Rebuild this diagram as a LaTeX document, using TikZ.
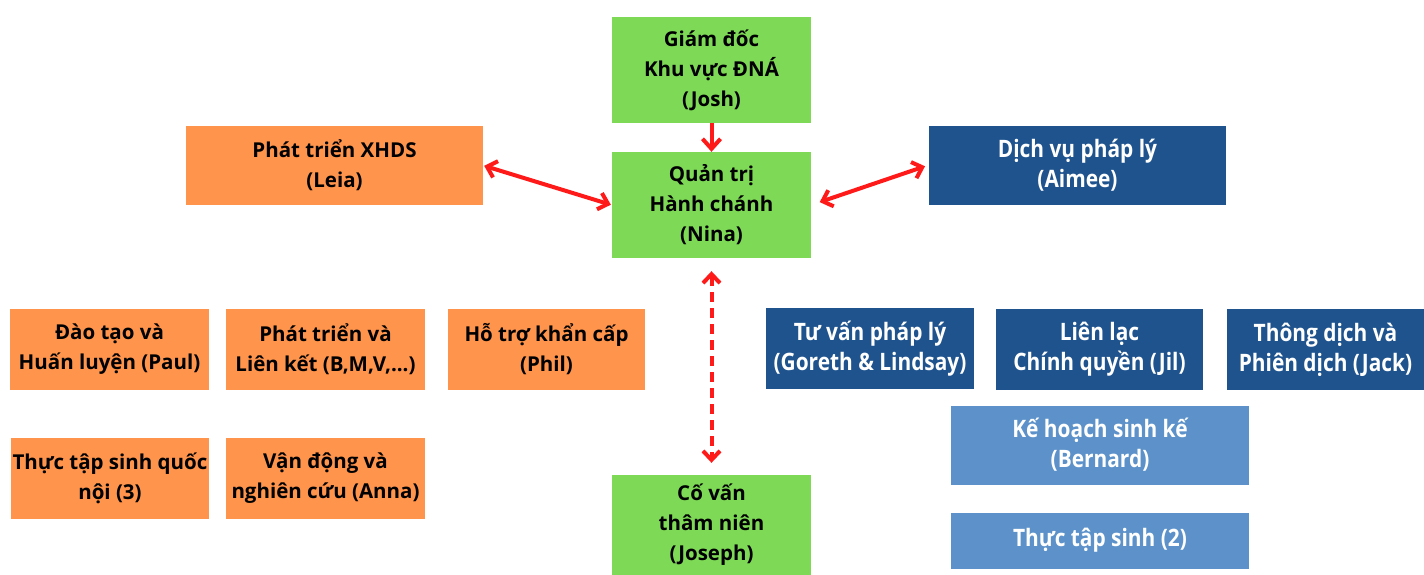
\documentclass[tikz,border=0pt]{standalone}
\usepackage{fontspec}
\setmainfont{Open Sans}
\newfontfamily\narrowfont{Open Sans}[FakeStretch=0.87]
\usepackage{tikz}
\usetikzlibrary{arrows.meta}
\usetikzlibrary{calc}

\definecolor{boxgreen}{RGB}{126,217,87}
\definecolor{boxorange}{RGB}{255,148,77}
\definecolor{boxdark}{RGB}{31,83,141}
\definecolor{boxlight}{RGB}{92,146,201}
\definecolor{linkred}{RGB}{255,26,26}

\begin{document}
\begin{tikzpicture}[x=1pt,y=-1pt,
	unit/.style={inner sep=0pt,align=center,font=\fontsize{20.5}{30}\selectfont\bfseries},
	green/.style={unit,fill=boxgreen},
	orange/.style={unit,fill=boxorange},
	dark/.style={unit,fill=boxdark,text=white,font=\fontsize{24}{30}\selectfont\narrowfont\bfseries},
	light/.style={dark,fill=boxlight},
	link/.style={draw=linkred,line width=4pt},
	oneway/.style={link,-{Straight Barb[length=10pt,width=18pt]}},
	twoway/.style={link,{Straight Barb[length=9pt,width=17pt]}-{Straight Barb[length=9pt,width=17pt]}}]
	\useasboundingbox (0,0) rectangle (1424,574);
% top row
	\node[green,minimum width=199pt,minimum height=106pt] (josh) at (711.5,70) {Giám đốc\\Khu vực ĐNÁ\\(Josh)};
	\node[green,minimum width=199pt,minimum height=106pt] (nina) at (711.5,205) {Quản trị\\Hành chánh\\(Nina)};
	\node[orange,minimum width=297pt,minimum height=79pt] (leia) at (334.5,165.5) {Phát triển XHDS\\(Leia)};
	\node[dark,minimum width=297pt,minimum height=79pt] (aimee) at (1077.5,165) {Dịch vụ pháp lý\\(Aimee)};
% left group
	\node[orange,minimum width=199pt,minimum height=81pt] (paul) at (109.5,349.5) {Đào tạo và\\Huấn luyện (Paul)};
	\node[orange,minimum width=199pt,minimum height=81pt] (bmv) at (325.5,349.5) {Phát triển và\\Liên kết (B,M,V,...)};
	\node[orange,minimum width=197pt,minimum height=81pt] (phil) at (546.5,349.5) {Hỗ trợ khẩn cấp\\(Phil)};
	\node[orange,minimum width=198pt,minimum height=81pt] (intern3) at (110,478.5) {Thực tập sinh quốc\\nội (3)};
	\node[orange,minimum width=199pt,minimum height=81pt] (anna) at (325.5,478.5) {Vận động và\\nghiên cứu (Anna)};
	\node[green,minimum width=199pt,minimum height=100pt] (joseph) at (711.5,525) {Cố vấn\\thâm niên\\(Joseph)};
% right group
	\node[dark,minimum width=208pt,minimum height=81pt] (goreth) at (870,348.5) {Tư vấn pháp lý\\(Goreth \& Lindsay)};
	\node[dark,minimum width=207pt,minimum height=81pt] (jil) at (1099.5,349.5) {Liên lạc\\Chính quyền (Jil)};
	\node[dark,minimum width=197pt,minimum height=81pt] (jack) at (1325.5,349.5) {Thông dịch và\\Phiên dịch (Jack)};
	\node[light,minimum width=298pt,minimum height=79pt] (bernard) at (1100,445) {Kế hoạch sinh kế\\(Bernard)};
	\node[light,minimum width=298pt,minimum height=56pt] (intern2) at (1100,540.5) {Thực tập sinh (2)};
% links
	\draw[oneway] (josh) -- (nina);
	\draw[twoway,shorten <=1pt,shorten >=1pt] (leia.east) -- (nina.west);
	\draw[twoway,shorten <=9pt,shorten >=4pt] (nina.east) -- (aimee.west);
	\draw[twoway,dash pattern=on 10pt off 6pt,shorten <=13pt,shorten >=12pt] (nina.south) -- (joseph.north);
\end{tikzpicture}
\end{document}
